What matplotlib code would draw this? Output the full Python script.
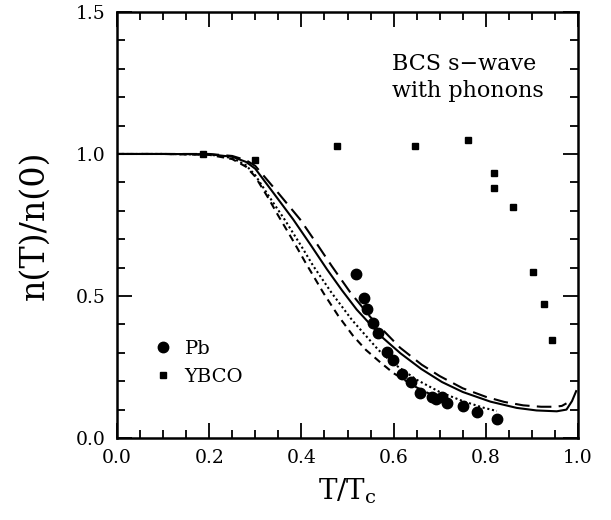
import numpy as np
import matplotlib
matplotlib.use("Agg")
import matplotlib.pyplot as plt
from matplotlib.lines import Line2D
from matplotlib.ticker import MultipleLocator

plt.rcParams['font.family'] = ['DejaVu Serif']
plt.rcParams['mathtext.fontset'] = 'dejavuserif'

# theory curves
solid_t = [0.0, 0.1, 0.2, 0.25, 0.28, 0.30, 0.336, 0.382, 0.42, 0.455, 0.488,
           0.52, 0.575, 0.615, 0.66, 0.705, 0.75, 0.81, 0.867, 0.91, 0.954,
           0.975, 0.987, 0.996]
solid_n = [1.0, 1.0, 0.999, 0.99, 0.972, 0.948, 0.87, 0.77, 0.68, 0.595, 0.52,
           0.452, 0.355, 0.298, 0.243, 0.197, 0.162, 0.128, 0.106, 0.097, 0.094,
           0.10, 0.13, 0.165]

longdash_t = [0.0, 0.1, 0.2, 0.25, 0.28, 0.30, 0.346, 0.397, 0.435, 0.466, 0.505,
              0.55, 0.614, 0.661, 0.70, 0.75, 0.80, 0.84, 0.881, 0.92, 0.95,
              0.965, 0.975]
longdash_n = [1.0, 1.0, 1.0, 0.993, 0.978, 0.958, 0.87, 0.77, 0.68, 0.605, 0.515,
              0.425, 0.318, 0.258, 0.218, 0.175, 0.145, 0.127, 0.115, 0.11, 0.11,
              0.113, 0.122]

dotted_t = [0.0, 0.1, 0.2, 0.25, 0.28, 0.30, 0.33, 0.364, 0.40, 0.426, 0.466,
            0.51, 0.567, 0.60, 0.65, 0.70, 0.75, 0.794, 0.824]
dotted_n = [1.0, 1.0, 0.998, 0.986, 0.96, 0.925, 0.85, 0.768, 0.675, 0.605, 0.51,
            0.415, 0.31, 0.262, 0.205, 0.162, 0.13, 0.107, 0.095]

shortdash_t = [0.0, 0.1, 0.2, 0.25, 0.28, 0.30, 0.33, 0.349, 0.38, 0.408, 0.448,
               0.48, 0.512, 0.54, 0.570, 0.60, 0.65, 0.71]
shortdash_n = [1.0, 1.0, 0.997, 0.982, 0.955, 0.92, 0.84, 0.785, 0.70, 0.62, 0.51,
               0.43, 0.36, 0.31, 0.268, 0.228, 0.178, 0.13]

# data points
pb_t = [0.518, 0.536, 0.542, 0.555, 0.567, 0.585, 0.599, 0.618, 0.638, 0.658,
        0.683, 0.693, 0.704, 0.715, 0.751, 0.780, 0.824]
pb_n = [0.578, 0.494, 0.454, 0.405, 0.371, 0.302, 0.275, 0.225, 0.197, 0.158,
        0.145, 0.137, 0.143, 0.124, 0.112, 0.092, 0.067]

ybco_t = [0.186, 0.300, 0.478, 0.646, 0.761, 0.818, 0.818, 0.860, 0.902, 0.926, 0.943]
ybco_n = [1.0, 0.979, 1.029, 1.029, 1.050, 0.933, 0.880, 0.815, 0.586, 0.471, 0.344]

fig = plt.figure(figsize=(6.11, 5.2), dpi=100)
ax = fig.add_axes([0.1915, 0.1577, 0.7545, 0.8193])

ax.plot(solid_t, solid_n, color='black', lw=1.5)
ax.plot(longdash_t, longdash_n, color='black', lw=1.5, dashes=(7, 3.5))
ax.plot(dotted_t, dotted_n, color='black', lw=1.5, dashes=(1, 1.3))
ax.plot(shortdash_t, shortdash_n, color='black', lw=1.5, dashes=(3.5, 2.5))

ax.plot(pb_t, pb_n, 'o', color='black', ms=7.5, ls='none')
ax.plot(ybco_t, ybco_n, 's', color='black', ms=5, ls='none')

ax.set_xlim(0, 1.0)
ax.set_ylim(0, 1.5)
ax.xaxis.set_major_locator(MultipleLocator(0.2))
ax.xaxis.set_minor_locator(MultipleLocator(0.05))
ax.yaxis.set_major_locator(MultipleLocator(0.5))
ax.yaxis.set_minor_locator(MultipleLocator(0.1))
ax.tick_params(which='both', direction='in', top=True, right=True, width=1.3,
               labelsize=13.5)
ax.tick_params(which='major', length=11, pad=8)
ax.tick_params(which='minor', length=6)
for s in ax.spines.values():
    s.set_linewidth(1.8)

ax.set_xlabel(r'T/T$_\mathrm{c}$', fontsize=20, labelpad=7)
ax.set_ylabel('n(T)/n(0)', fontsize=24, labelpad=18)

ax.text(0.597, 1.27, 'BCS s\u2212wave\nwith phonons', fontsize=16,
        va='center', ha='left', linespacing=1.3)

handles = [Line2D([], [], marker='o', color='black', ls='none', ms=7.5),
           Line2D([], [], marker='s', color='black', ls='none', ms=5)]
ax.legend(handles, ['Pb', 'YBCO'], loc='lower left', bbox_to_anchor=(0.041, 0.082),
          frameon=False, fontsize=14, handletextpad=0.6, labelspacing=0.5,
          handlelength=1.0)

fig.savefig('out.png', dpi=100)
